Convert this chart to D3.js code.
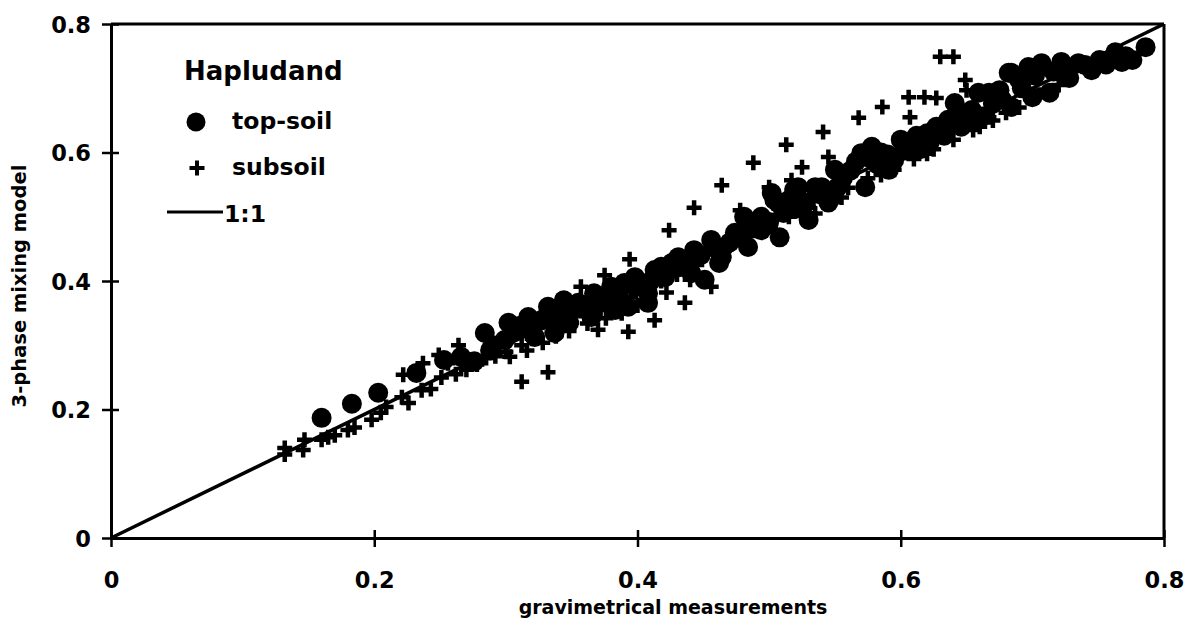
<!DOCTYPE html>
<html>
<head>
<meta charset="utf-8">
<script src="https://cdn.jsdelivr.net/npm/d3@7"></script>
<style>
  body { margin: 0; background: #fff; }
  text { font-family: "DejaVu Sans", sans-serif; font-weight: bold; fill: #000; }
</style>
</head>
<body>
<div id="chart"></div>
<script>
//Chart size and plot box
const width = 1191;
const height = 634;
const plotLeft = 111, plotRight = 1164, plotTop = 24, plotBottom = 538;

//Tick values for both axes
const xTicks = [0, 0.2, 0.4, 0.6, 0.8];
const yTicks = [0, 0.2, 0.4, 0.6, 0.8];

//Top-soil points [gravimetrical, model]
const topsoil = [
  [0.160, 0.187], [0.183, 0.209], [0.203, 0.226], [0.232, 0.257], [0.253, 0.277],
  [0.266, 0.282], [0.276, 0.275], [0.284, 0.319], [0.288, 0.292], [0.290, 0.300],
  [0.299, 0.308], [0.302, 0.335], [0.310, 0.330], [0.317, 0.344], [0.322, 0.313],
  [0.326, 0.338], [0.332, 0.360], [0.337, 0.319], [0.344, 0.370], [0.348, 0.335],
  [0.355, 0.366], [0.365, 0.344], [0.367, 0.381], [0.380, 0.391], [0.383, 0.355],
  [0.390, 0.397], [0.393, 0.360], [0.398, 0.406], [0.408, 0.366], [0.408, 0.381],
  [0.413, 0.417], [0.418, 0.422], [0.426, 0.428], [0.431, 0.437], [0.441, 0.412],
  [0.443, 0.448], [0.451, 0.402], [0.456, 0.464], [0.462, 0.428], [0.464, 0.437],
  [0.474, 0.468], [0.474, 0.475], [0.481, 0.500], [0.484, 0.490], [0.484, 0.453],
  [0.494, 0.479], [0.494, 0.500], [0.502, 0.537], [0.504, 0.526], [0.507, 0.521],
  [0.508, 0.468], [0.515, 0.526], [0.519, 0.542], [0.522, 0.546], [0.530, 0.495],
  [0.535, 0.546], [0.540, 0.546], [0.545, 0.522], [0.548, 0.531], [0.550, 0.573],
  [0.570, 0.599], [0.573, 0.546], [0.578, 0.609], [0.585, 0.600], [0.591, 0.573],
  [0.595, 0.588], [0.600, 0.620], [0.608, 0.615], [0.615, 0.605], [0.620, 0.630],
  [0.627, 0.640], [0.631, 0.640], [0.641, 0.655], [0.641, 0.677], [0.646, 0.640],
  [0.654, 0.666], [0.659, 0.693], [0.667, 0.693], [0.675, 0.697], [0.682, 0.724],
  [0.684, 0.671], [0.684, 0.724], [0.690, 0.713], [0.697, 0.733], [0.700, 0.686],
  [0.707, 0.739], [0.713, 0.693], [0.722, 0.741], [0.735, 0.739], [0.745, 0.728],
  [0.751, 0.744], [0.763, 0.756], [0.768, 0.741], [0.776, 0.744], [0.786, 0.764],
  [0.305, 0.322], [0.315, 0.326], [0.328, 0.340], [0.340, 0.347], [0.352, 0.357],
  [0.360, 0.362], [0.372, 0.367], [0.378, 0.372], [0.386, 0.382], [0.400, 0.392],
  [0.410, 0.400], [0.421, 0.406], [0.430, 0.421], [0.438, 0.430], [0.448, 0.440],
  [0.460, 0.450], [0.470, 0.460], [0.478, 0.470], [0.489, 0.486], [0.500, 0.492],
  [0.511, 0.506], [0.520, 0.512], [0.528, 0.522], [0.538, 0.535], [0.552, 0.546],
  [0.556, 0.560], [0.562, 0.572], [0.566, 0.586], [0.576, 0.592], [0.582, 0.582],
  [0.590, 0.597], [0.603, 0.603], [0.612, 0.626], [0.622, 0.616], [0.633, 0.626],
  [0.636, 0.651], [0.646, 0.661], [0.652, 0.651], [0.662, 0.656], [0.670, 0.676],
  [0.677, 0.682], [0.692, 0.700], [0.702, 0.720], [0.716, 0.726], [0.727, 0.731],
  [0.740, 0.736], [0.756, 0.737], [0.760, 0.746], [0.771, 0.750], [0.728, 0.716]
];

//Subsoil points [gravimetrical, model]
const subsoil = [
  [0.132, 0.140], [0.132, 0.130], [0.146, 0.137], [0.147, 0.153], [0.160, 0.153],
  [0.165, 0.157], [0.170, 0.160], [0.180, 0.168], [0.185, 0.172], [0.198, 0.184],
  [0.205, 0.195], [0.209, 0.204], [0.222, 0.254], [0.221, 0.219], [0.226, 0.210],
  [0.236, 0.230], [0.237, 0.272], [0.243, 0.232], [0.249, 0.285], [0.251, 0.250],
  [0.256, 0.272], [0.262, 0.255], [0.264, 0.300], [0.270, 0.262], [0.278, 0.270],
  [0.285, 0.280], [0.292, 0.283], [0.300, 0.290], [0.305, 0.320], [0.312, 0.243],
  [0.312, 0.300], [0.320, 0.310], [0.325, 0.330], [0.332, 0.258], [0.335, 0.320],
  [0.342, 0.330], [0.350, 0.335], [0.357, 0.391], [0.360, 0.345], [0.370, 0.324],
  [0.372, 0.355], [0.375, 0.409], [0.380, 0.365], [0.393, 0.321], [0.394, 0.434],
  [0.395, 0.375], [0.405, 0.385], [0.413, 0.339], [0.418, 0.400], [0.424, 0.479],
  [0.430, 0.410], [0.436, 0.366], [0.443, 0.514], [0.445, 0.425], [0.456, 0.391],
  [0.458, 0.445], [0.464, 0.549], [0.470, 0.455], [0.478, 0.510], [0.485, 0.470],
  [0.488, 0.584], [0.500, 0.546], [0.500, 0.485], [0.513, 0.612], [0.515, 0.500],
  [0.517, 0.557], [0.525, 0.577], [0.530, 0.515], [0.541, 0.632], [0.545, 0.593],
  [0.545, 0.530], [0.560, 0.545], [0.568, 0.654], [0.575, 0.560], [0.586, 0.671],
  [0.595, 0.573], [0.606, 0.686], [0.607, 0.655], [0.610, 0.590], [0.618, 0.686],
  [0.627, 0.685], [0.630, 0.749], [0.625, 0.605], [0.640, 0.749], [0.640, 0.620],
  [0.649, 0.713], [0.650, 0.697], [0.655, 0.635], [0.667, 0.655], [0.670, 0.650],
  [0.690, 0.670], [0.705, 0.690], [0.720, 0.705],
  [0.303, 0.282], [0.316, 0.292], [0.328, 0.304], [0.338, 0.314], [0.348, 0.322],
  [0.362, 0.334], [0.376, 0.342], [0.388, 0.350], [0.400, 0.362], [0.422, 0.382],
  [0.440, 0.402], [0.462, 0.432], [0.482, 0.458], [0.505, 0.478], [0.535, 0.505],
  [0.555, 0.530], [0.585, 0.565], [0.620, 0.598], [0.660, 0.640], [0.680, 0.662]
];

//1:1 reference line
const oneToOne = [[0, 0], [0.8, 0.8]];

const svg = d3.select("#chart").append("svg")
  .attr("width", width).attr("height", height)
  .style("background", "#fff");

const x = d3.scaleLinear().domain([0, 0.8]).range([plotLeft, plotRight]);
const y = d3.scaleLinear().domain([0, 0.8]).range([plotBottom, plotTop]);
const fmt = d => d === 0 ? "0" : d3.format(".1f")(d);

//x axis with ticks crossing the line
const gx = svg.append("g").attr("transform", `translate(0,${plotBottom})`)
  .call(d3.axisBottom(x).tickValues(xTicks).tickFormat(fmt).tickSizeOuter(0));
gx.select(".domain").attr("stroke", "#000").attr("stroke-width", 3);
gx.selectAll(".tick line").attr("y1", -8).attr("y2", 9).attr("stroke-width", 2.5);
gx.selectAll(".tick text").attr("y", 50).attr("dy", 0)
  .style("font-size", "22.5px").style("font-family", "DejaVu Sans").style("font-weight", "bold");

//y axis
const gy = svg.append("g").attr("transform", `translate(${plotLeft},0)`)
  .call(d3.axisLeft(y).tickValues(yTicks).tickFormat(fmt).tickSizeOuter(0));
gy.select(".domain").attr("stroke", "#000").attr("stroke-width", 3);
gy.selectAll(".tick line").attr("x1", -9).attr("x2", 8).attr("stroke-width", 2.5);
gy.selectAll(".tick text").attr("x", -20).attr("dy", "0.36em")
  .style("font-size", "22.5px").style("font-family", "DejaVu Sans").style("font-weight", "bold");

//frame: top and right edges
svg.append("line").attr("x1", x(0)).attr("x2", x(0.8)).attr("y1", y(0.8)).attr("y2", y(0.8))
  .attr("stroke", "#000").attr("stroke-width", 3);
svg.append("line").attr("x1", x(0.8)).attr("x2", x(0.8)).attr("y1", y(0)).attr("y2", y(0.8))
  .attr("stroke", "#000").attr("stroke-width", 3);

//1:1 line
svg.append("path").datum(oneToOne)
  .attr("d", d3.line().x(d => x(d[0])).y(d => y(d[1])))
  .attr("fill", "none").attr("stroke", "#000").attr("stroke-width", 3.5);

const plus = s => `M${-s},0H${s}M0,${-s}V${s}`;

//subsoil crosses
svg.append("g").selectAll("path").data(subsoil).enter().append("path")
  .attr("transform", d => `translate(${x(d[0])},${y(d[1])})`)
  .attr("d", plus(7.5))
  .attr("stroke", "#000").attr("stroke-width", 4.5);

//topsoil dots
svg.append("g").selectAll("circle").data(topsoil).enter().append("circle")
  .attr("cx", d => x(d[0])).attr("cy", d => y(d[1]))
  .attr("r", 10).attr("fill", "#000");

//legend
const lg = svg.append("g");
lg.append("text").attr("x", 184).attr("y", 80).style("font-size", "26px").text("Hapludand");
lg.append("circle").attr("cx", 196).attr("cy", 122).attr("r", 9.5).attr("fill", "#000");
lg.append("text").attr("x", 232).attr("y", 129).style("font-size", "23.5px").text("top-soil");
lg.append("path").attr("transform", "translate(197,168)").attr("d", plus(7.5))
  .attr("stroke", "#000").attr("stroke-width", 4);
lg.append("text").attr("x", 232).attr("y", 175).style("font-size", "23.5px").text("subsoil");
lg.append("line").attr("x1", 167).attr("x2", 223).attr("y1", 212).attr("y2", 212)
  .attr("stroke", "#000").attr("stroke-width", 3);
lg.append("text").attr("x", 224).attr("y", 222).style("font-size", "23.5px").text("1:1");

//axis titles
svg.append("text").attr("x", 673).attr("y", 614).attr("text-anchor", "middle")
  .style("font-size", "19px").text("gravimetrical measurements");
svg.append("text").attr("transform", "translate(26,286) rotate(-90)").attr("text-anchor", "middle")
  .style("font-size", "19.5px").text("3-phase mixing model");
</script>
</body>
</html>
